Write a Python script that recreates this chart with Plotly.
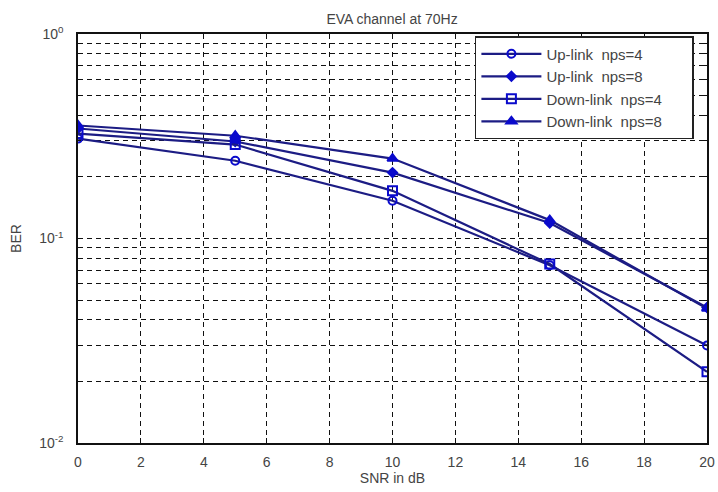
import plotly.graph_objects as go

snr = [0, 5, 10, 15, 20]
up_nps4 = [0.308, 0.240, 0.153, 0.074, 0.030]
up_nps8 = [0.345, 0.298, 0.210, 0.119, 0.046]
down_nps4 = [0.326, 0.288, 0.171, 0.075, 0.0223]
down_nps8 = [0.357, 0.318, 0.246, 0.123, 0.0455]

names = ["Up-link  nps=4", "Up-link  nps=8", "Down-link  nps=4", "Down-link  nps=8"]
series = [up_nps4, up_nps8, down_nps4, down_nps8]
symbols = ["circle-open", "diamond", "square-open", "triangle-up"]
sizes = [8, 7, 9, 9]

line_color = "#1c1c84"
marker_color = "#0a0acc"
pad = "\u00a0" * 6

fig = go.Figure()
for n, s, sym, sz in zip(names, series, symbols, sizes):
    fig.add_trace(go.Scatter(
        x=snr, y=s, name=n + pad, mode="lines+markers",
        line=dict(color=line_color, width=2.2),
        marker=dict(symbol=sym, size=sz, color=marker_color,
                    line=dict(color=marker_color, width=2)),
    ))

family = "Liberation Sans, Arial, sans-serif"
font = dict(family=family, size=14, color="#444")
tickfont = dict(family=family, size=14, color="#444")
grid_dash = "5px,4px"

fig.update_layout(
    width=718, height=492,
    margin=dict(l=78, r=11, t=34, b=49),
    paper_bgcolor="white", plot_bgcolor="white",
    font=font,
    title=dict(text="EVA channel at 70Hz", x=0.546, xanchor="center", y=0.972,
               yanchor="top", font=dict(family=family, size=14, color="#444")),
    showlegend=True,
    legend=dict(x=0.631, y=0.995, xanchor="left", yanchor="top",
                bordercolor="#222", borderwidth=1.5, bgcolor="white",
                font=dict(family=family, size=15, color="#444"), tracegroupgap=0,
                itemwidth=60),
)

fig.update_xaxes(
    range=[0, 20], tickvals=list(range(0, 21, 2)), tickfont=tickfont,
    showgrid=True, gridcolor="#111", griddash=grid_dash, gridwidth=1,
    ticks="inside", ticklen=5, tickcolor="#111",
    showline=True, linecolor="#111", linewidth=1.5, mirror="ticks",
    zeroline=False, automargin=False, ticklabelstandoff=5,
    title=dict(text="SNR in dB", standoff=4, font=dict(family=family, size=14, color="#444")),
)

fig.update_yaxes(
    type="log", range=[-2, 0],
    tickvals=[0.01, 0.1, 1], tickfont=tickfont,
    ticktext=["10<sup>-2</sup>", "10<sup>-1</sup>", "10<sup>0</sup>"],
    showgrid=True, gridcolor="#111", griddash=grid_dash, gridwidth=1,
    ticks="inside", ticklen=5, tickcolor="#111",
    minor=dict(tickvals=[k * 10 ** e for e in (-2, -1) for k in range(2, 10)],
               showgrid=True, gridcolor="#111", griddash=grid_dash, gridwidth=1,
               ticks="inside", ticklen=3, tickcolor="#111"),
    showline=True, linecolor="#111", linewidth=1.5, mirror="ticks",
    zeroline=False, automargin=False, ticklabelstandoff=10,
    title=dict(text="BER", standoff=14, font=dict(family=family, size=14, color="#444")),
)

fig.write_html("out.html")
